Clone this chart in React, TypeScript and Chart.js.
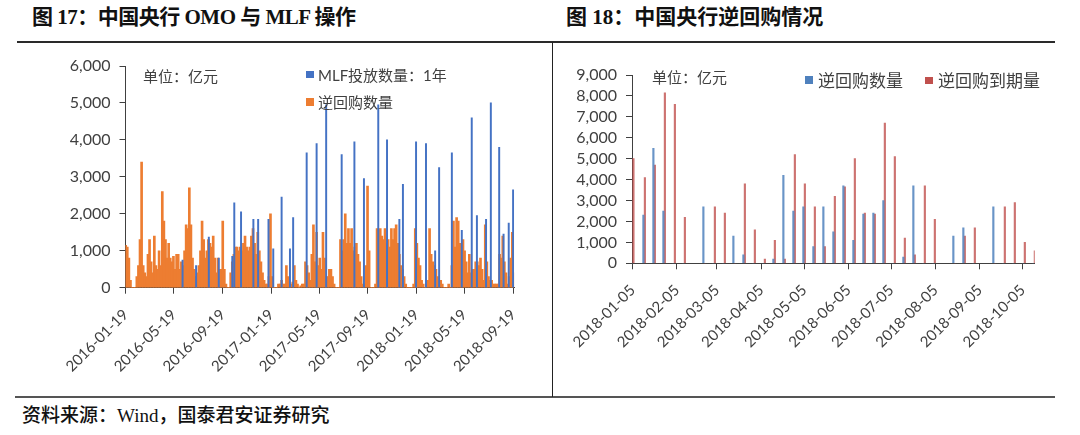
import React, { useEffect, useRef } from 'react';
import { Chart, registerables } from 'chart.js';

Chart.register(...registerables);

// ---------------- Left chart (图 17) data ----------------
const LEFT_START = '2016-01-19';
const LEFT_TICK_DATES = [
  '2016-01-19', '2016-05-19', '2016-09-19', '2017-01-19', '2017-05-19',
  '2017-09-19', '2018-01-19', '2018-05-19', '2018-09-19',
];
const LEFT_END = '2018-09-22';
const ORANGE_STEP_DAYS = 4;
// 逆回购数量 (亿元), one bar per 4-day step starting 2016-01-19
const ORANGE_VALUES = [
  1150, 1100, 800, 200, 0, 0, 0, 300, 600, 1300,
  3400, 600, 400, 300, 900, 1300, 700, 400, 1400, 600,
  500, 1000, 600, 2600, 1800, 1300, 800, 1200, 800, 700,
  850, 500, 900, 900, 500, 700, 600, 1000, 1700, 1600,
  2700, 1700, 800, 500, 300, 400, 600, 1000, 1800, 1300,
  800, 1000, 1300, 1200, 1100, 1400, 800, 400, 800, 500,
  500, 1800, 500, 100, 0, 0, 400, 700, 900, 1100,
  1100, 1000, 1100, 1000, 1200, 1400, 1100, 1000, 1100, 1400,
  1600, 1200, 900, 1500, 1000, 700, 400, 200, 100, 100,
  300, 2000, 300, 0, 0, 0, 100, 100, 200, 100,
  100, 600, 300, 100, 100, 150, 600, 200, 100, 0,
  50, 100, 100, 700, 600, 400, 200, 900, 1700, 700,
  1500, 600, 800, 500, 1500, 800, 300, 300, 500, 500,
  300, 100, 0, 0, 0, 1300, 1000, 1300, 2000, 1200,
  1600, 1200, 1600, 1000, 1100, 1200, 900, 700, 300, 100,
  100, 600, 2750, 1000, 0, 0, 0, 100, 1600, 1500,
  1600, 1400, 1300, 1600, 1200, 1300, 1100, 1600, 1300, 1600,
  1700, 1200, 900, 600, 500, 300, 100, 0, 0, 0,
  0, 100, 1600, 1200, 800, 600, 200, 100, 0, 100,
  200, 1600, 900, 700, 600, 500, 300, 200, 200, 100,
  0, 0, 0, 100, 0, 600, 1800, 1100, 1900, 1800,
  1200, 800, 1300, 1000, 700, 400, 900, 400, 500, 500,
  700, 700, 600, 800, 500, 200, 1700, 700, 300, 200,
  200, 100, 100, 100, 100, 900, 800, 1400, 700, 400,
  100, 300, 800, 1500, 400,
];
// MLF投放数量：1年 (亿元)
const MLF_DATES = [
  '2016-06-10', '2016-07-14', '2016-08-15', '2016-09-09', '2016-10-13', '2016-10-18',
  '2016-11-04', '2016-12-05', '2016-12-17', '2017-01-12', '2017-01-24', '2017-02-14',
  '2017-03-07', '2017-03-15', '2017-04-18', '2017-05-13', '2017-06-06', '2017-07-15',
  '2017-08-16', '2017-09-09', '2017-10-15', '2017-11-06', '2017-12-07', '2017-12-16',
  '2018-01-18', '2018-02-12', '2018-03-07', '2018-03-17', '2018-04-18', '2018-05-13',
  '2018-06-07', '2018-06-20', '2018-07-13', '2018-07-25', '2018-08-15', '2018-08-26',
  '2018-09-08', '2018-09-19',
];
const MLF_VALUES = [
  750, 600, 1370, 800, 850, 2300,
  2050, 1850, 1850, 1850, 1050, 2450,
  1050, 1900, 3650, 3900, 4950, 3600,
  3950, 2950, 4950, 4000, 1850, 2800,
  3950, 3900, 1000, 3250, 3650, 1550,
  4600, 1950, 1850, 5000, 3800, 1450,
  1750, 2650,
];

// ---------------- Right chart (图 18) data ----------------
const RIGHT_START = '2018-01-05';
const RIGHT_END = '2018-10-13';
const RIGHT_TICK_DATES = [
  '2018-01-05', '2018-02-05', '2018-03-05', '2018-04-05', '2018-05-05',
  '2018-06-05', '2018-07-05', '2018-08-05', '2018-09-05', '2018-10-05',
];
const REPO_DATES = [
  '2018-01-05', '2018-01-13', '2018-01-20', '2018-01-27', '2018-02-03', '2018-02-10',
  '2018-02-24', '2018-03-03', '2018-03-10', '2018-03-17', '2018-03-24', '2018-03-31',
  '2018-04-07', '2018-04-14', '2018-04-21', '2018-04-28', '2018-05-05', '2018-05-12',
  '2018-05-19', '2018-05-26', '2018-06-02', '2018-06-09', '2018-06-16', '2018-06-23',
  '2018-06-30', '2018-07-07', '2018-07-14', '2018-07-21', '2018-07-28', '2018-08-04',
  '2018-08-18', '2018-08-25', '2018-09-01', '2018-09-15', '2018-09-22', '2018-09-29',
  '2018-10-06', '2018-10-13',
];
// 逆回购数量
const REPO_VALUES = [
  0, 2300, 5500, 2500, 0, 0,
  2700, 0, 0, 1300, 400, 0,
  0, 200, 4200, 2500, 2700, 800,
  2700, 1500, 3700, 1100, 2350, 2400,
  3000, 0, 300, 3700, 0, 0,
  1300, 1700, 0, 2700, 0, 0,
  0, 0,
];
// 逆回购到期量
const MATURITY_VALUES = [
  5000, 4100, 4700, 8150, 7600, 2200,
  0, 2700, 2400, 0, 3800, 1600,
  200, 1100, 200, 5200, 3800, 2700,
  800, 3200, 3650, 5000, 2400, 2350,
  6700, 5100, 1200, 400, 3700, 2100,
  0, 1300, 1700, 0, 2700, 2900,
  1000, 600,
];

// ---------------- helpers ----------------
const DAY_MS = 86400000;
function dayDiff(a: string, b: string): number {
  return Math.round((Date.parse(b + 'T00:00:00Z') - Date.parse(a + 'T00:00:00Z')) / DAY_MS);
}
function addDays(start: string, n: number): string {
  const d = new Date(Date.parse(start + 'T00:00:00Z') + Math.round(n) * DAY_MS);
  return d.toISOString().slice(0, 10);
}

const AXIS_COLOR = '#404040';
const TEXT_COLOR = '#404040';
const X_TICK_FONT = { family: 'Lato, "Noto Sans", sans-serif', size: 15 };
const Y_TICK_FONT = { family: 'Lato, "Noto Sans", sans-serif', size: 16 };
const CJK = '"Noto Sans CJK SC", sans-serif';

function makeScales(opts: {
  start: string; endDay: number; tickDays: number[]; yMax: number;
  yWidth: number; xHeight: number;
}) {
  return {
    x: {
      type: 'linear' as const,
      min: -0.5,
      max: opts.endDay,
      offset: false,
      afterBuildTicks: (s: any) => {
        s.ticks = opts.tickDays.map((v) => ({ value: v }));
      },
      afterFit: (s: any) => { s.height = opts.xHeight; },
      grid: { drawOnChartArea: false, drawTicks: true, tickLength: 6, color: AXIS_COLOR, offset: false },
      border: { display: true, color: AXIS_COLOR, width: 1 },
      ticks: {
        autoSkip: false, maxRotation: 45, minRotation: 45, padding: 12,
        font: X_TICK_FONT, color: TEXT_COLOR,
        callback: (v: any) => addDays(opts.start, Number(v)),
      },
    },
    y: {
      min: 0,
      max: opts.yMax,
      afterFit: (s: any) => { s.width = opts.yWidth; },
      grid: { drawOnChartArea: false, drawTicks: true, tickLength: 6, color: AXIS_COLOR },
      border: { display: true, color: AXIS_COLOR, width: 1 },
      ticks: {
        stepSize: 1000, padding: 9, autoSkip: false, font: Y_TICK_FONT, color: TEXT_COLOR,
        callback: (v: any) => Number(v).toLocaleString('en-US'),
      },
    },
  };
}

function LeftChart() {
  const ref = useRef<HTMLCanvasElement | null>(null);
  useEffect(() => {
    if (!ref.current) return;
    const endDay = dayDiff(LEFT_START, LEFT_END) - 0.5;
    const chart = new Chart(ref.current, {
      type: 'bar',
      data: {
        datasets: [
          {
            label: 'MLF投放数量：1年',
            data: MLF_DATES.map((d, i) => ({ x: dayDiff(LEFT_START, d), y: MLF_VALUES[i] })),
            backgroundColor: '#4472C4',
            barThickness: 1.3,
            grouped: false,
          } as any,
          {
            label: '逆回购数量',
            data: ORANGE_VALUES.map((v, i) => ({ x: i * ORANGE_STEP_DAYS, y: v })),
            backgroundColor: '#ED7D31',
            barThickness: 2,
            grouped: false,
          } as any,
        ],
      },
      options: {
        animation: false,
        responsive: false,
        devicePixelRatio: 1,
        layout: { padding: { top: 66, right: 545 - 514.1, bottom: 0, left: 0 } },
        plugins: { legend: { display: false }, tooltip: { enabled: false } },
        scales: makeScales({
          start: LEFT_START,
          endDay,
          tickDays: LEFT_TICK_DATES.map((d) => dayDiff(LEFT_START, d)),
          yMax: 6000,
          yWidth: 125.5,
          xHeight: 395 - 287.7,
        }) as any,
      },
    });
    return () => chart.destroy();
  }, []);
  return (
    <canvas
      ref={ref}
      width={545}
      height={395}
      style={{ position: 'absolute', left: 0, top: 0, width: 545, height: 395 }}
    />
  );
}

function RightChart() {
  const ref = useRef<HTMLCanvasElement | null>(null);
  useEffect(() => {
    if (!ref.current) return;
    const endDay = dayDiff(RIGHT_START, RIGHT_END) + 0.5;
    const chart = new Chart(ref.current, {
      type: 'bar',
      data: {
        datasets: [
          {
            label: '逆回购数量',
            data: REPO_DATES.map((d, i) => ({ x: dayDiff(RIGHT_START, d), y: REPO_VALUES[i] })),
            backgroundColor: 'rgba(79,129,189,0.85)',
            barThickness: 1.5,
          } as any,
          {
            label: '逆回购到期量',
            data: REPO_DATES.map((d, i) => ({ x: dayDiff(RIGHT_START, d), y: MATURITY_VALUES[i] })),
            backgroundColor: 'rgba(192,80,77,0.8)',
            barThickness: 1.5,
          } as any,
        ],
      },
      options: {
        animation: false,
        responsive: false,
        devicePixelRatio: 1,
        layout: { padding: { top: 75, right: 1080 - 1034.8, bottom: 0, left: 0 } },
        plugins: { legend: { display: false }, tooltip: { enabled: false } },
        scales: makeScales({
          start: RIGHT_START,
          endDay,
          tickDays: RIGHT_TICK_DATES.map((d) => dayDiff(RIGHT_START, d)),
          yMax: 9000,
          yWidth: 632 - 553,
          xHeight: 395 - 263.3,
        }) as any,
      },
    });
    return () => chart.destroy();
  }, []);
  return (
    <canvas
      ref={ref}
      width={527}
      height={395}
      style={{ position: 'absolute', left: 553, top: 0, width: 527, height: 395 }}
    />
  );
}

const abs = (s: React.CSSProperties): React.CSSProperties => ({ position: 'absolute', whiteSpace: 'nowrap', ...s });

function Square({ left, top, color }: { left: number; top: number; color: string }) {
  return <div style={abs({ left, top, width: 7.5, height: 7.5, background: color })} />;
}

export default function App() {
  const titleFont = '"Liberation Serif", "Noto Sans CJK SC", serif';
  return (
    <div style={{ position: 'absolute', left: 0, top: 0, width: 1080, height: 435, background: '#fff', overflow: 'hidden' }}>
      {/* titles */}
      <div style={abs({ left: 32, top: 6, fontSize: 21, lineHeight: '22px', fontFamily: titleFont, fontWeight: 700, color: '#111', letterSpacing: '-0.5px' })}>
        图 17：中国央行 OMO 与 MLF 操作
      </div>
      <div style={abs({ left: 566, top: 6, fontSize: 21, lineHeight: '22px', fontFamily: titleFont, fontWeight: 700, color: '#111' })}>
        图 18：中国央行逆回购情况
      </div>
      {/* frame lines */}
      <div style={abs({ left: 17, top: 41, width: 1038, height: 2, background: '#2a2a2a' })} />
      <div style={abs({ left: 15, top: 396, width: 1040, height: 2, background: '#555' })} />
      <div style={abs({ left: 552, top: 42, width: 1, height: 355, background: '#222' })} />

      <LeftChart />
      <RightChart />

      {/* left annotations */}
      <div style={abs({ left: 143, top: 67, fontSize: 15, lineHeight: '18px', fontFamily: CJK, color: TEXT_COLOR })}>单位：亿元</div>
      <Square left={306} top={70.7} color="#4472C4" />
      <div style={abs({ left: 318, top: 65.5, fontSize: 15, lineHeight: '18px', fontFamily: 'Lato, ' + CJK, color: TEXT_COLOR })}>MLF投放数量：1年</div>
      <Square left={306} top={98} color="#ED7D31" />
      <div style={abs({ left: 318, top: 93, fontSize: 15, lineHeight: '18px', fontFamily: CJK, color: TEXT_COLOR })}>逆回购数量</div>

      {/* right annotations */}
      <div style={abs({ left: 652, top: 68, fontSize: 15, lineHeight: '18px', fontFamily: CJK, color: TEXT_COLOR })}>单位：亿元</div>
      <Square left={805} top={76} color="#4F81BD" />
      <div style={abs({ left: 818, top: 70, fontSize: 17, lineHeight: '20px', fontFamily: CJK, color: TEXT_COLOR })}>逆回购数量</div>
      <Square left={925} top={76.5} color="#C0504D" />
      <div style={abs({ left: 938, top: 70, fontSize: 17, lineHeight: '20px', fontFamily: CJK, color: TEXT_COLOR })}>逆回购到期量</div>

      {/* footer */}
      <div style={abs({ left: 22, top: 405, fontSize: 19, lineHeight: '22px', fontFamily: titleFont, fontWeight: 500, color: '#111' })}>
        资料来源：Wind，国泰君安证券研究
      </div>
    </div>
  );
}
